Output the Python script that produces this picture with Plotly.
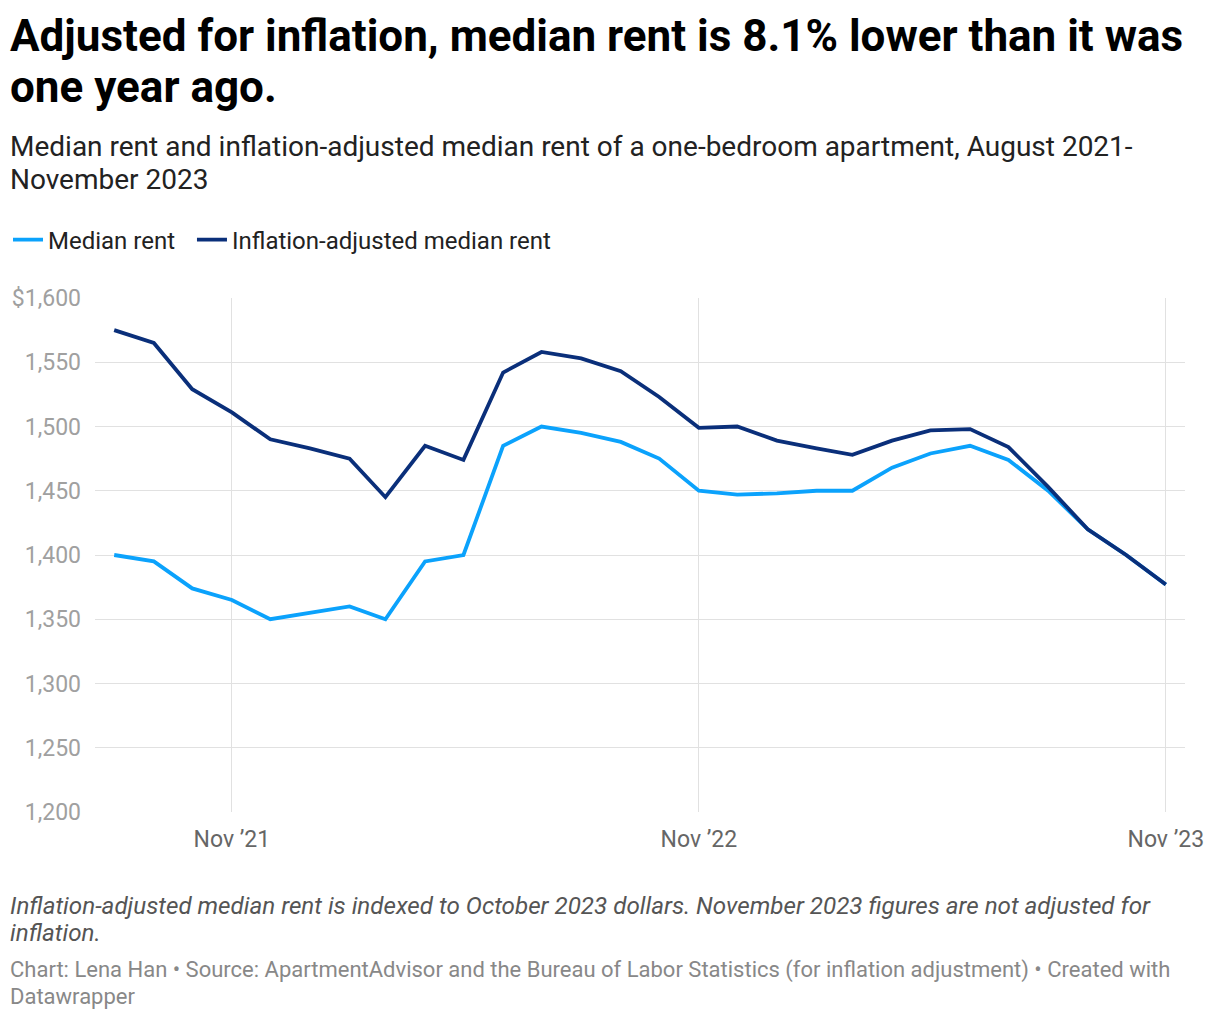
import plotly.graph_objects as go

months = ["2021-08-01","2021-09-01","2021-10-01","2021-11-01","2021-12-01",
          "2022-01-01","2022-02-01","2022-03-01","2022-04-01","2022-05-01","2022-06-01",
          "2022-07-01","2022-08-01","2022-09-01","2022-10-01","2022-11-01","2022-12-01",
          "2023-01-01","2023-02-01","2023-03-01","2023-04-01","2023-05-01","2023-06-01",
          "2023-07-01","2023-08-01","2023-09-01","2023-10-01","2023-11-01"]

median_rent = [1400, 1395, 1374, 1365, 1350, 1355, 1360, 1350, 1395, 1400, 1485,
               1500, 1495, 1488, 1475, 1450, 1447, 1448, 1450, 1450, 1468, 1479,
               1485, 1474, 1450, 1420, 1400, 1377]

adjusted_rent = [1575, 1565, 1529, 1511, 1490, 1483, 1475, 1445, 1485, 1474, 1542,
                 1558, 1553, 1543, 1523, 1499, 1500, 1489, 1483, 1478, 1489, 1497,
                 1498, 1484, 1453, 1420, 1400, 1377]

y_ticks = [1200, 1250, 1300, 1350, 1400, 1450, 1500, 1550, 1600]
y_labels = ["1,200", "1,250", "1,300", "1,350", "1,400", "1,450", "1,500", "1,550", "$1,600"]
x_ticks = ["2021-11-01", "2022-11-01", "2023-11-01"]
x_labels = ["Nov \u201921", "Nov \u201922", "Nov \u201923"]

FONT = "Roboto"
OFF = 8  # page body margin
W, H = 1220, 1020
L, R, T, B = 95 - OFF, 1185 - OFF, 298 - OFF, 812 - OFF

def px(x):
    return (x - OFF - L) / (R - L)

def py(y):
    return (B - (y - OFF)) / (B - T)

fig = go.Figure()
fig.add_trace(go.Scatter(x=months, y=median_rent, mode="lines", name="Median rent\u00a0\u00a0",
                         line=dict(color="#0ba2fc", width=3.8)))
fig.add_trace(go.Scatter(x=months, y=adjusted_rent, mode="lines", name="Inflation-adjusted median rent",
                         line=dict(color="#0a2f7a", width=3.8)))

annotations = []
def txt(s, x, y, size, color="#000", bold=False, italic=False):
    if bold:
        s = "<b>" + s + "</b>"
    if italic:
        s = "<i>" + s + "</i>"
    annotations.append(dict(text=s, x=px(x), y=py(y), xref="paper", yref="paper",
                            xanchor="left", yanchor="middle", showarrow=False,
                            font=dict(family=FONT, size=size, color=color)))

txt("Adjusted for inflation, median rent is 8.1% lower than it was", 8, 36, 44, bold=True)
txt("one year ago.", 8, 87, 44, bold=True)
txt("Median rent and inflation-adjusted median rent of a one-bedroom apartment, August 2021-", 8, 147, 28, color="#222")
txt("November 2023", 8, 180, 28, color="#222")
txt("Inflation-adjusted median rent is indexed to October 2023 dollars. November 2023 figures are not adjusted for", 8, 906, 24.2, color="#555", italic=True)
txt("inflation.", 8, 933, 24.2, color="#555", italic=True)
txt("Chart: Lena Han \u2022 Source: ApartmentAdvisor and the Bureau of Labor Statistics (for inflation adjustment) \u2022 Created with", 8, 970, 22, color="#888")
txt("Datawrapper", 8, 996, 22, color="#888")

fig.update_layout(
    width=W, height=H,
    margin=dict(l=L, r=W - R, t=T, b=H - B, pad=0, autoexpand=False),
    paper_bgcolor="white", plot_bgcolor="white",
    font=dict(family=FONT),
    annotations=annotations,
    showlegend=True,
    legend=dict(orientation="h", xref="container", yref="container",
                x=-2 / W, y=1 - (240 - OFF) / H, xanchor="left", yanchor="middle",
                font=dict(family=FONT, size=24, color="#222"),
                itemwidth=30, tracegroupgap=0, bgcolor="rgba(0,0,0,0)"),
    xaxis=dict(range=["2021-07-17", "2023-11-16"], tickvals=x_ticks, ticktext=x_labels,
               automargin=False, ticklabelstandoff=11,
               showgrid=True, gridcolor="#e1e1e1", gridwidth=1, zeroline=False,
               showline=False, ticks="", tickfont=dict(family=FONT, size=23, color="#666")),
    yaxis=dict(range=[1200, 1600], tickvals=y_ticks, ticktext=y_labels,
               automargin=False,
               showgrid=True, gridcolor="#e1e1e1", gridwidth=1, zeroline=False,
               showline=False, ticks="", ticklabelstandoff=13,
               tickfont=dict(family=FONT, size=23, color="#a0a0a0")),
)

fig.write_html("out.html")
